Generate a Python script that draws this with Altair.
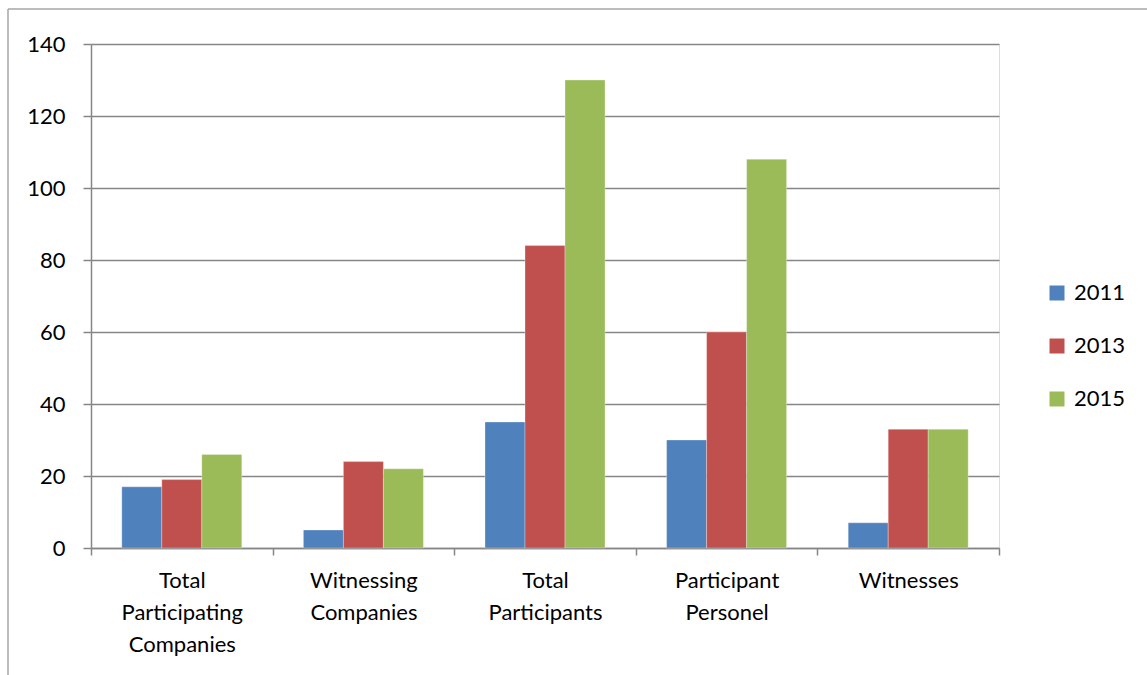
import altair as alt
import pandas as pd

categories = ["Total Participating Companies", "Witnessing Companies",
              "Total Participants", "Participant Personel", "Witnesses"]
years = ["2011", "2013", "2015"]
v2011 = [17, 5, 35, 30, 7]
v2013 = [19, 24, 84, 60, 33]
v2015 = [26, 22, 130, 108, 33]
colors = ["#4F81BD", "#C0504D", "#9BBB59"]

rows = []
for yr, vals in zip(years, [v2011, v2013, v2015]):
    for c, v in zip(categories, vals):
        rows.append({"category": c, "year": yr, "value": v})
df = pd.DataFrame(rows)

FONT = "Lato"
FS = 22

bars = alt.Chart(df).mark_bar(stroke="#ffffff", strokeWidth=0.6, strokeOpacity=0.5).encode(
    x=alt.X("category:N", sort=categories, title=None,
            scale=alt.Scale(paddingInner=0, paddingOuter=0),
            axis=alt.Axis(labelAngle=0, labelExpr="split(datum.label, ' ')",
                          labelLineHeight=32, labelFontSize=FS, labelFont=FONT,
                          labelColor="#000000", labelPadding=15, labelBaseline="top",
                          tickBand="extent", tickSize=7, tickColor="#868686", tickWidth=1.5,
                          domainColor="#868686", domainWidth=1.5, grid=False)),
    xOffset=alt.XOffset("year:N", sort=years, scale=alt.Scale(paddingInner=0, paddingOuter=0.77)),
    y=alt.Y("value:Q", title=None,
            scale=alt.Scale(domain=[0, 140], nice=False),
            axis=alt.Axis(values=list(range(0, 141, 20)), labelFontSize=FS, labelFont=FONT,
                          labelColor="#000000", labelPadding=18, tickSize=8,
                          tickColor="#868686", tickWidth=1.5, domainColor="#868686",
                          domainWidth=1.5, gridColor="#868686", gridWidth=1.5)),
    color=alt.Color("year:N", sort=years, title=None,
                    scale=alt.Scale(domain=years, range=colors),
                    legend=alt.Legend(orient="none", legendX=955, legendY=238,
                                      symbolType="square", symbolSize=225,
                                      symbolStrokeWidth=0, labelFontSize=FS, labelFont=FONT,
                                      labelColor="#000000", labelOffset=6, rowPadding=31)),
)

frame = alt.Chart(alt.Data(values=[{}]))
top_line = frame.mark_rule(color="#a6a6a6", strokeWidth=1.5).encode(
    x=alt.value(-83), x2=alt.value(1060), y=alt.value(-35))
left_line = frame.mark_rule(color="#a6a6a6", strokeWidth=1.5).encode(
    x=alt.value(-83), y=alt.value(-35), y2=alt.value(640))

chart = alt.layer(bars, top_line, left_line).properties(
    width=908, height=504,
    autosize=alt.AutoSizeParams(type="none"),
    padding={"left": 91, "top": 44, "right": 148, "bottom": 127},
).configure_view(stroke=None).configure(background="#ffffff")

chart.save("out.html", embed_options={"renderer": "svg", "actions": False})
